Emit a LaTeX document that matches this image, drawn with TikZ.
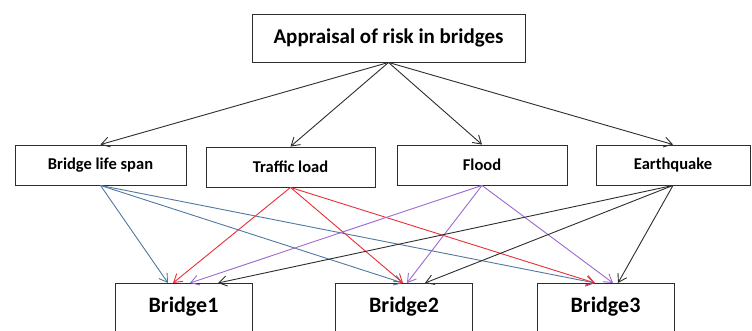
\documentclass[tikz,border=0pt]{standalone}
\definecolor{linkblue}{RGB}{80,120,160}
\definecolor{linkred}{RGB}{235,45,55}
\definecolor{linkpurple}{RGB}{155,105,205}
\definecolor{linkgray}{RGB}{45,45,45}
\usepackage{fontspec}
\setmainfont{Carlito}
\usepackage{tikz}
\usetikzlibrary{arrows.meta, positioning}

\tikzset{
  riskbox/.style={draw=linkgray, line width=0.9pt, inner sep=0pt, font=\bfseries},
  bridgebox/.style={riskbox, anchor=north, minimum width=137pt, inner ysep=2pt,
                    text height=27pt, text depth=30pt, font=\bfseries\fontsize{22}{24}\selectfont},
  link/.style={line width=0.9pt, -{Straight Barb[length=8pt, width=10pt]}}
}

\begin{document}
\begin{tikzpicture}[x=1pt, y=-1pt]
        \useasboundingbox (0,0) rectangle (752,331);
        \clip (0,0) rectangle (752,331);
        % top and factors
        \node[riskbox, minimum width=273pt, minimum height=48pt,
              font=\bfseries\fontsize{21}{23}\selectfont] (risk) at (388.5,38) {Appraisal of risk in bridges};
        \foreach \n/\x/\y/\w/\t in {life/100.5/165/171/Bridge life span, traffic/290.5/167/169/Traffic load,
                                    flood/482/165/170/Flood, quake/673/165/154/Earthquake}{
          \node[riskbox, minimum width=\w pt, minimum height=40pt,
                font=\bfseries\fontsize{16.5}{18}\selectfont] (\n) at (\x,\y) {\t};
          \draw[link, linkgray] (risk.south) -- (\n.north);
        }
        % bridges
        \node[bridgebox] (b1) at (183.5,283) {Bridge1};
        \node[bridgebox] (b2) at (404,283) {Bridge2};
        \node[bridgebox] (b3) at (605.5,283) {Bridge3};
        \foreach \f/\c/\a/\b/\d in {life/linkblue/-15.5/-1/-10.5, traffic/linkred/-10.5/-1/-10.5,
                                    flood/linkpurple/6.5/3/7.5, quake/linkgray/34.5/21/12.5}{
          \draw[link, \c] (\f.south) -- ([xshift=\a pt]b1.north);
          \draw[link, \c] (\f.south) -- ([xshift=\b pt]b2.north);
          \draw[link, \c] (\f.south) -- ([xshift=\d pt]b3.north);
        }
      \end{tikzpicture}
\end{document}
